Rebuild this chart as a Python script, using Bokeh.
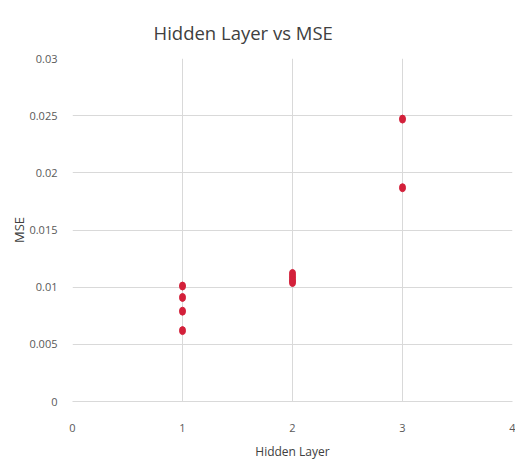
from bokeh.plotting import figure
from bokeh.models import ColumnDataSource, Title, FixedTicker, Range1d
from bokeh.embed import file_html
from bokeh.resources import INLINE

hidden_layer = [1, 1, 1, 1, 2, 2, 2, 2, 3, 3]
mse = [0.0101, 0.0091, 0.0079, 0.0062, 0.0112, 0.0109, 0.0106, 0.0104, 0.0247, 0.0187]

x_ticks = [0, 1, 2, 3, 4]
y_ticks = [0, 0.005, 0.01, 0.015, 0.02, 0.025, 0.03]
y_tick_labels = {0: "0", 0.005: "0.005", 0.01: "0.01", 0.015: "0.015", 0.02: "0.02", 0.025: "0.025", 0.03: "0.03"}
title_text = "Hidden Layer vs MSE"

src = ColumnDataSource(dict(x=hidden_layer, y=mse))

p = figure(width=515, height=466, output_backend="svg", toolbar_location=None,
           x_range=Range1d(0, 4), y_range=Range1d(0, 0.03),
           min_border_left=72, min_border_right=3, min_border_top=58, min_border_bottom=65)
p.outline_line_color = None
p.background_fill_color = "white"
p.border_fill_color = "white"

font = "Open Sans"
grey = "#595959"

p.add_layout(Title(text=title_text, align="left", offset=81, standoff=28,
                   text_font=font, text_font_size="18.5px", text_font_style="normal",
                   text_color="#404040"), "above")

p.ellipse(x="x", y="y", width=6, height=8, width_units="screen", height_units="screen",
          source=src, fill_color="#d3203a", line_color="#d3203a")

p.xaxis.ticker = FixedTicker(ticks=x_ticks)
p.yaxis.ticker = FixedTicker(ticks=y_ticks)
p.yaxis.major_label_overrides = {k: v for k, v in y_tick_labels.items()}
p.xaxis.axis_label = "Hidden Layer"
p.yaxis.axis_label = "MSE"
for ax in (p.xaxis, p.yaxis):
    ax.major_tick_line_color = None
    ax.minor_tick_line_color = None
    ax.major_label_text_font = font
    ax.major_label_text_font_size = "11px"
    ax.major_label_text_color = grey
    ax.axis_label_text_font = font
    ax.axis_label_text_font_style = "normal"
    ax.axis_label_text_color = "#404040"
p.xaxis.axis_label_text_font_size = "12px"
p.yaxis.axis_label_text_font_size = "13px"
p.xaxis.axis_line_color = "#d9d9d9"
p.yaxis.axis_line_color = None
p.xaxis.major_label_standoff = 16
p.yaxis.major_label_standoff = 9
p.xaxis.axis_label_standoff = 8
p.yaxis.axis_label_standoff = -2
p.xgrid.grid_line_color = "#d9d9d9"
p.ygrid.grid_line_color = "#d9d9d9"

open("out.html", "w").write(file_html(p, INLINE))
